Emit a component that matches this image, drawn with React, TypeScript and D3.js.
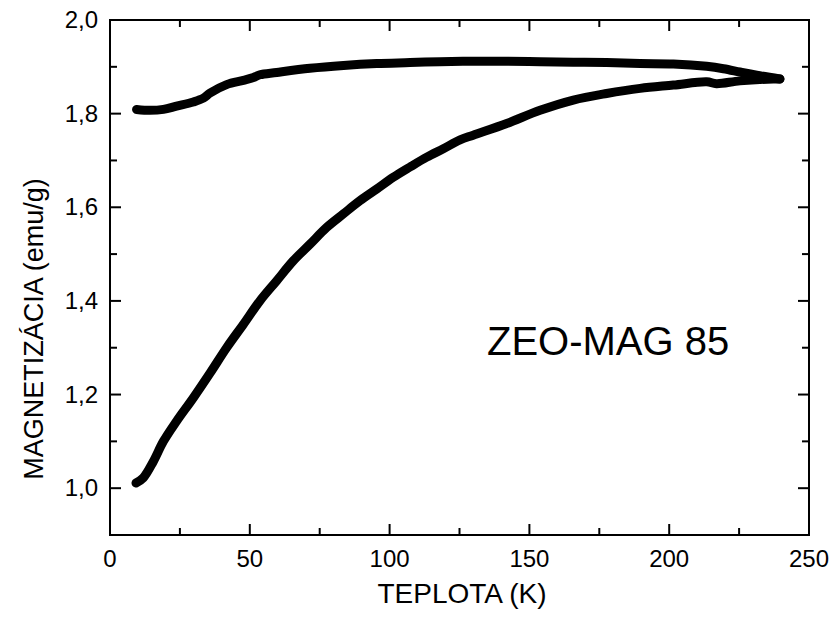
import React from "react";
import * as d3 from "d3";

const zfcT = [9.3, 11.9, 15.5, 19.1, 23.8, 29.8, 35.8, 41.7, 47.7, 53.6, 59.6, 65.6, 71.5, 77.5, 83.5, 89.4, 95.4, 101.3, 107.3, 113.3, 119.2, 125.2, 129.9, 141.9, 153.8, 165.7, 177.6, 189.6, 201.5, 213.4, 216.9, 225.3, 237.2, 239.6];
const zfcM = [1.011, 1.022, 1.057, 1.1, 1.143, 1.193, 1.246, 1.3, 1.35, 1.4, 1.443, 1.486, 1.521, 1.557, 1.586, 1.614, 1.639, 1.664, 1.686, 1.707, 1.725, 1.744, 1.754, 1.779, 1.807, 1.829, 1.843, 1.854, 1.861, 1.868, 1.864, 1.87, 1.874, 1.874];

const fcT = [239.6, 231.3, 225.3, 219.4, 213.4, 201.5, 189.6, 177.6, 165.7, 153.8, 141.9, 129.9, 118, 107.3, 95.4, 83.5, 71.5, 59.6, 53.6, 51.3, 47.7, 41.7, 35.8, 33.4, 29.8, 23.8, 19.1, 14.3, 9.5];
const fcM = [1.874, 1.882, 1.889, 1.896, 1.901, 1.906, 1.907, 1.909, 1.91, 1.911, 1.912, 1.912, 1.911, 1.909, 1.907, 1.903, 1.897, 1.888, 1.883, 1.877, 1.871, 1.862, 1.844, 1.833, 1.825, 1.816, 1.809, 1.807, 1.809];

const xMajor = [0, 50, 100, 150, 200, 250];
const xMinor = [25, 75, 125, 175, 225];
const yMajor = [1.0, 1.2, 1.4, 1.6, 1.8, 2.0];
const yMinor = [1.1, 1.3, 1.5, 1.7, 1.9];

const xLabel = "TEPLOTA (K)";
const yLabel = "MAGNETIZÁCIA (emu/g)";
const annotation = "ZEO-MAG 85";

const W = 838, H = 620;
const L = 110, R = 809, T = 20, B = 535;

export default function App() {
  const x = d3.scaleLinear().domain([0, 250]).range([L, R]);
  const y = d3.scaleLinear().domain([0.9, 2.0]).range([B, T]);
  const line = d3
    .line<[number, number]>()
    .x((d) => x(d[0]))
    .y((d) => y(d[1]))
    .curve(d3.curveCatmullRom.alpha(0.5));
  const zfc = zfcT.map((t, i) => [t, zfcM[i]] as [number, number]);
  const fc = fcT.map((t, i) => [t, fcM[i]] as [number, number]);
  const fmt = (v: number) => d3.format(".1f")(v).replace(".", ",");
  const font = "'Liberation Sans', Arial, sans-serif";
  const major = 11, minor = 7;

  return (
    <svg width={W} height={H} style={{ position: "absolute", left: 0, top: 0, background: "#fff" }} fontFamily={font}>
      <rect x={0} y={0} width={W} height={H} fill="#fff" />
      <path d={line(zfc) || ""} fill="none" stroke="#000" strokeWidth={9} strokeLinecap="round" strokeLinejoin="round" />
      <path d={line(fc) || ""} fill="none" stroke="#000" strokeWidth={9} strokeLinecap="round" strokeLinejoin="round" />
      <rect x={L} y={T} width={R - L} height={B - T} fill="none" stroke="#000" strokeWidth={2} />
      {xMajor.map((v) => (
        <g key={"xM" + v}>
          <line x1={x(v)} x2={x(v)} y1={B} y2={B - major} stroke="#000" strokeWidth={2} />
          <line x1={x(v)} x2={x(v)} y1={T} y2={T + major} stroke="#000" strokeWidth={2} />
          <text x={x(v)} y={567} fontSize={24} textAnchor="middle" fill="#000">{v}</text>
        </g>
      ))}
      {xMinor.map((v) => (
        <g key={"xm" + v}>
          <line x1={x(v)} x2={x(v)} y1={B} y2={B - minor} stroke="#000" strokeWidth={2} />
          <line x1={x(v)} x2={x(v)} y1={T} y2={T + minor} stroke="#000" strokeWidth={2} />
        </g>
      ))}
      {yMajor.map((v) => (
        <g key={"yM" + v}>
          <line x1={L} x2={L + major} y1={y(v)} y2={y(v)} stroke="#000" strokeWidth={2} />
          <line x1={R} x2={R - major} y1={y(v)} y2={y(v)} stroke="#000" strokeWidth={2} />
          <text x={98} y={y(v) + 8} fontSize={24} textAnchor="end" fill="#000">{fmt(v)}</text>
        </g>
      ))}
      {yMinor.map((v) => (
        <g key={"ym" + v}>
          <line x1={L} x2={L + minor} y1={y(v)} y2={y(v)} stroke="#000" strokeWidth={2} />
          <line x1={R} x2={R - minor} y1={y(v)} y2={y(v)} stroke="#000" strokeWidth={2} />
        </g>
      ))}
      <text x={462} y={603} fontSize={28} textAnchor="middle" fill="#000">{xLabel}</text>
      <text transform={`translate(43,329) rotate(-90)`} fontSize={27} textAnchor="middle" fill="#000">{yLabel}</text>
      <text x={487} y={355} fontSize={40} fill="#000">{annotation}</text>
    </svg>
  );
}
